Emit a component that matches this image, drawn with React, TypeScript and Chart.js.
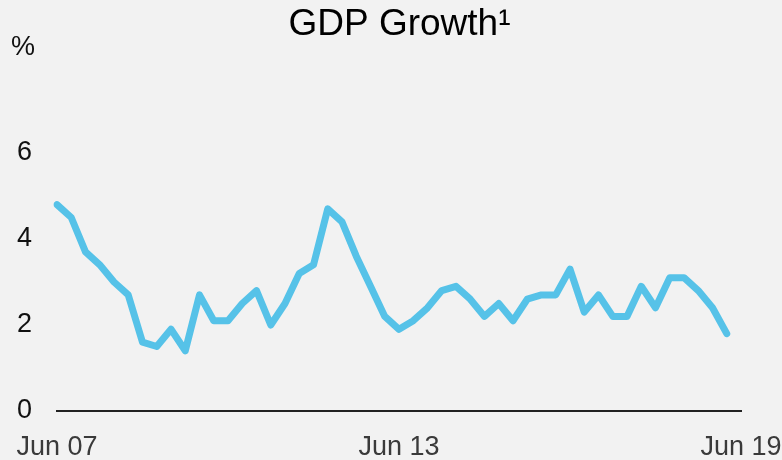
import React, { useEffect, useRef } from "react";
import { Chart, registerables } from "chart.js";

Chart.register(...registerables);

const chartTitle = "GDP Growth\u00B9";
const unitLabel = "%";

const quarters = [
  "Jun 07", "Sep 07", "Dec 07", "Mar 08", "Jun 08", "Sep 08", "Dec 08", "Mar 09",
  "Jun 09", "Sep 09", "Dec 09", "Mar 10", "Jun 10", "Sep 10", "Dec 10", "Mar 11",
  "Jun 11", "Sep 11", "Dec 11", "Mar 12", "Jun 12", "Sep 12", "Dec 12", "Mar 13",
  "Jun 13", "Sep 13", "Dec 13", "Mar 14", "Jun 14", "Sep 14", "Dec 14", "Mar 15",
  "Jun 15", "Sep 15", "Dec 15", "Mar 16", "Jun 16", "Sep 16", "Dec 16", "Mar 17",
  "Jun 17", "Sep 17", "Dec 17", "Mar 18", "Jun 18", "Sep 18", "Dec 18", "Mar 19",
  "Jun 19",
];

const gdpGrowth = [
  4.8, 4.5, 3.7, 3.4, 3.0, 2.7, 1.6, 1.5, 1.9, 1.4, 2.7, 2.1, 2.1, 2.5, 2.8, 2.0,
  2.5, 3.2, 3.4, 4.7, 4.4, 3.6, 2.9, 2.2, 1.9, 2.1, 2.4, 2.8, 2.9, 2.6, 2.2, 2.5,
  2.1, 2.6, 2.7, 2.7, 3.3, 2.3, 2.7, 2.2, 2.2, 2.9, 2.4, 3.1, 3.1, 2.8, 2.4, 1.8,
];

const xTickLabels = ["Jun 07", "Jun 13", "Jun 19"];
const yTickValues = [0, 2, 4, 6];

const FONT = "'Liberation Sans', Arial, Helvetica, sans-serif";
const BG = "#f2f2f2";

export default function App() {
  const ref = useRef<HTMLCanvasElement | null>(null);

  useEffect(() => {
    document.body.style.margin = "0";
    document.body.style.background = BG;
    const canvas = ref.current;
    if (!canvas) return;

    const bgPlugin = {
      id: "bg",
      beforeDraw(chart: any) {
        const { ctx, width, height } = chart;
        ctx.save();
        ctx.fillStyle = BG;
        ctx.fillRect(0, 0, width, height);
        ctx.restore();
      },
    };

    const unitPlugin = {
      id: "unit",
      afterDraw(chart: any) {
        const { ctx } = chart;
        ctx.save();
        ctx.font = `27px ${FONT}`;
        ctx.fillStyle = "#111";
        ctx.textAlign = "left";
        ctx.textBaseline = "middle";
        ctx.fillText(unitLabel, 11, 48);
        ctx.restore();
      },
    };

    const chart = new Chart(canvas, {
      type: "line",
      data: {
        labels: quarters,
        datasets: [
          {
            data: gdpGrowth,
            borderColor: "#56c2e8",
            backgroundColor: "#56c2e8",
            borderWidth: 7,
            borderJoinStyle: "round",
            borderCapStyle: "round",
            pointRadius: 0,
            tension: 0,
            fill: false,
          },
        ],
      },
      options: {
        responsive: false,
        animation: false,
        layout: { padding: { left: 17, top: 0, right: 0, bottom: 0 } },
        plugins: {
          legend: { display: false },
          tooltip: { enabled: false },
          title: {
            display: true,
            text: chartTitle,
            color: "#000",
            font: { family: FONT, size: 37, weight: "normal", lineHeight: 1.2 },
            padding: { top: 3, bottom: 19.6 },
          },
        },
        scales: {
          x: {
            type: "category",
            offset: false,
            grid: { display: false, drawTicks: false },
            border: { display: true, color: "#222", width: 2 },
            afterFit: (axis: any) => {
              axis.height = 49;
              axis.paddingLeft = 0;
              axis.paddingRight = 41;
            },
            ticks: {
              autoSkip: false,
              maxRotation: 0,
              minRotation: 0,
              padding: 20,
              color: "#3a3a3a",
              font: { family: FONT, size: 27 },
              callback: function (this: any, value: any, index: number) {
                const lab = quarters[index];
                return xTickLabels.includes(lab) ? lab : "";
              },
            },
          },
          y: {
            min: 0,
            max: 8,
            grid: { display: false, drawTicks: false },
            border: { display: false },
            afterBuildTicks: (axis: any) => {
              axis.ticks = yTickValues.map((v) => ({ value: v }));
            },
            afterFit: (axis: any) => {
              axis.width = 40;
              axis.paddingTop = 0;
              axis.paddingBottom = 0;
            },
            ticks: {
              padding: 25,
              color: "#111",
              font: { family: FONT, size: 27 },
              callback: (v: any) => String(v),
            },
          },
        },
      },
      plugins: [bgPlugin, unitPlugin],
    });

    return () => chart.destroy();
  }, []);

  return (
    <div style={{ width: 782, height: 460, background: BG }}>
      <canvas ref={ref} width={782} height={460} style={{ display: "block" }} />
    </div>
  );
}
